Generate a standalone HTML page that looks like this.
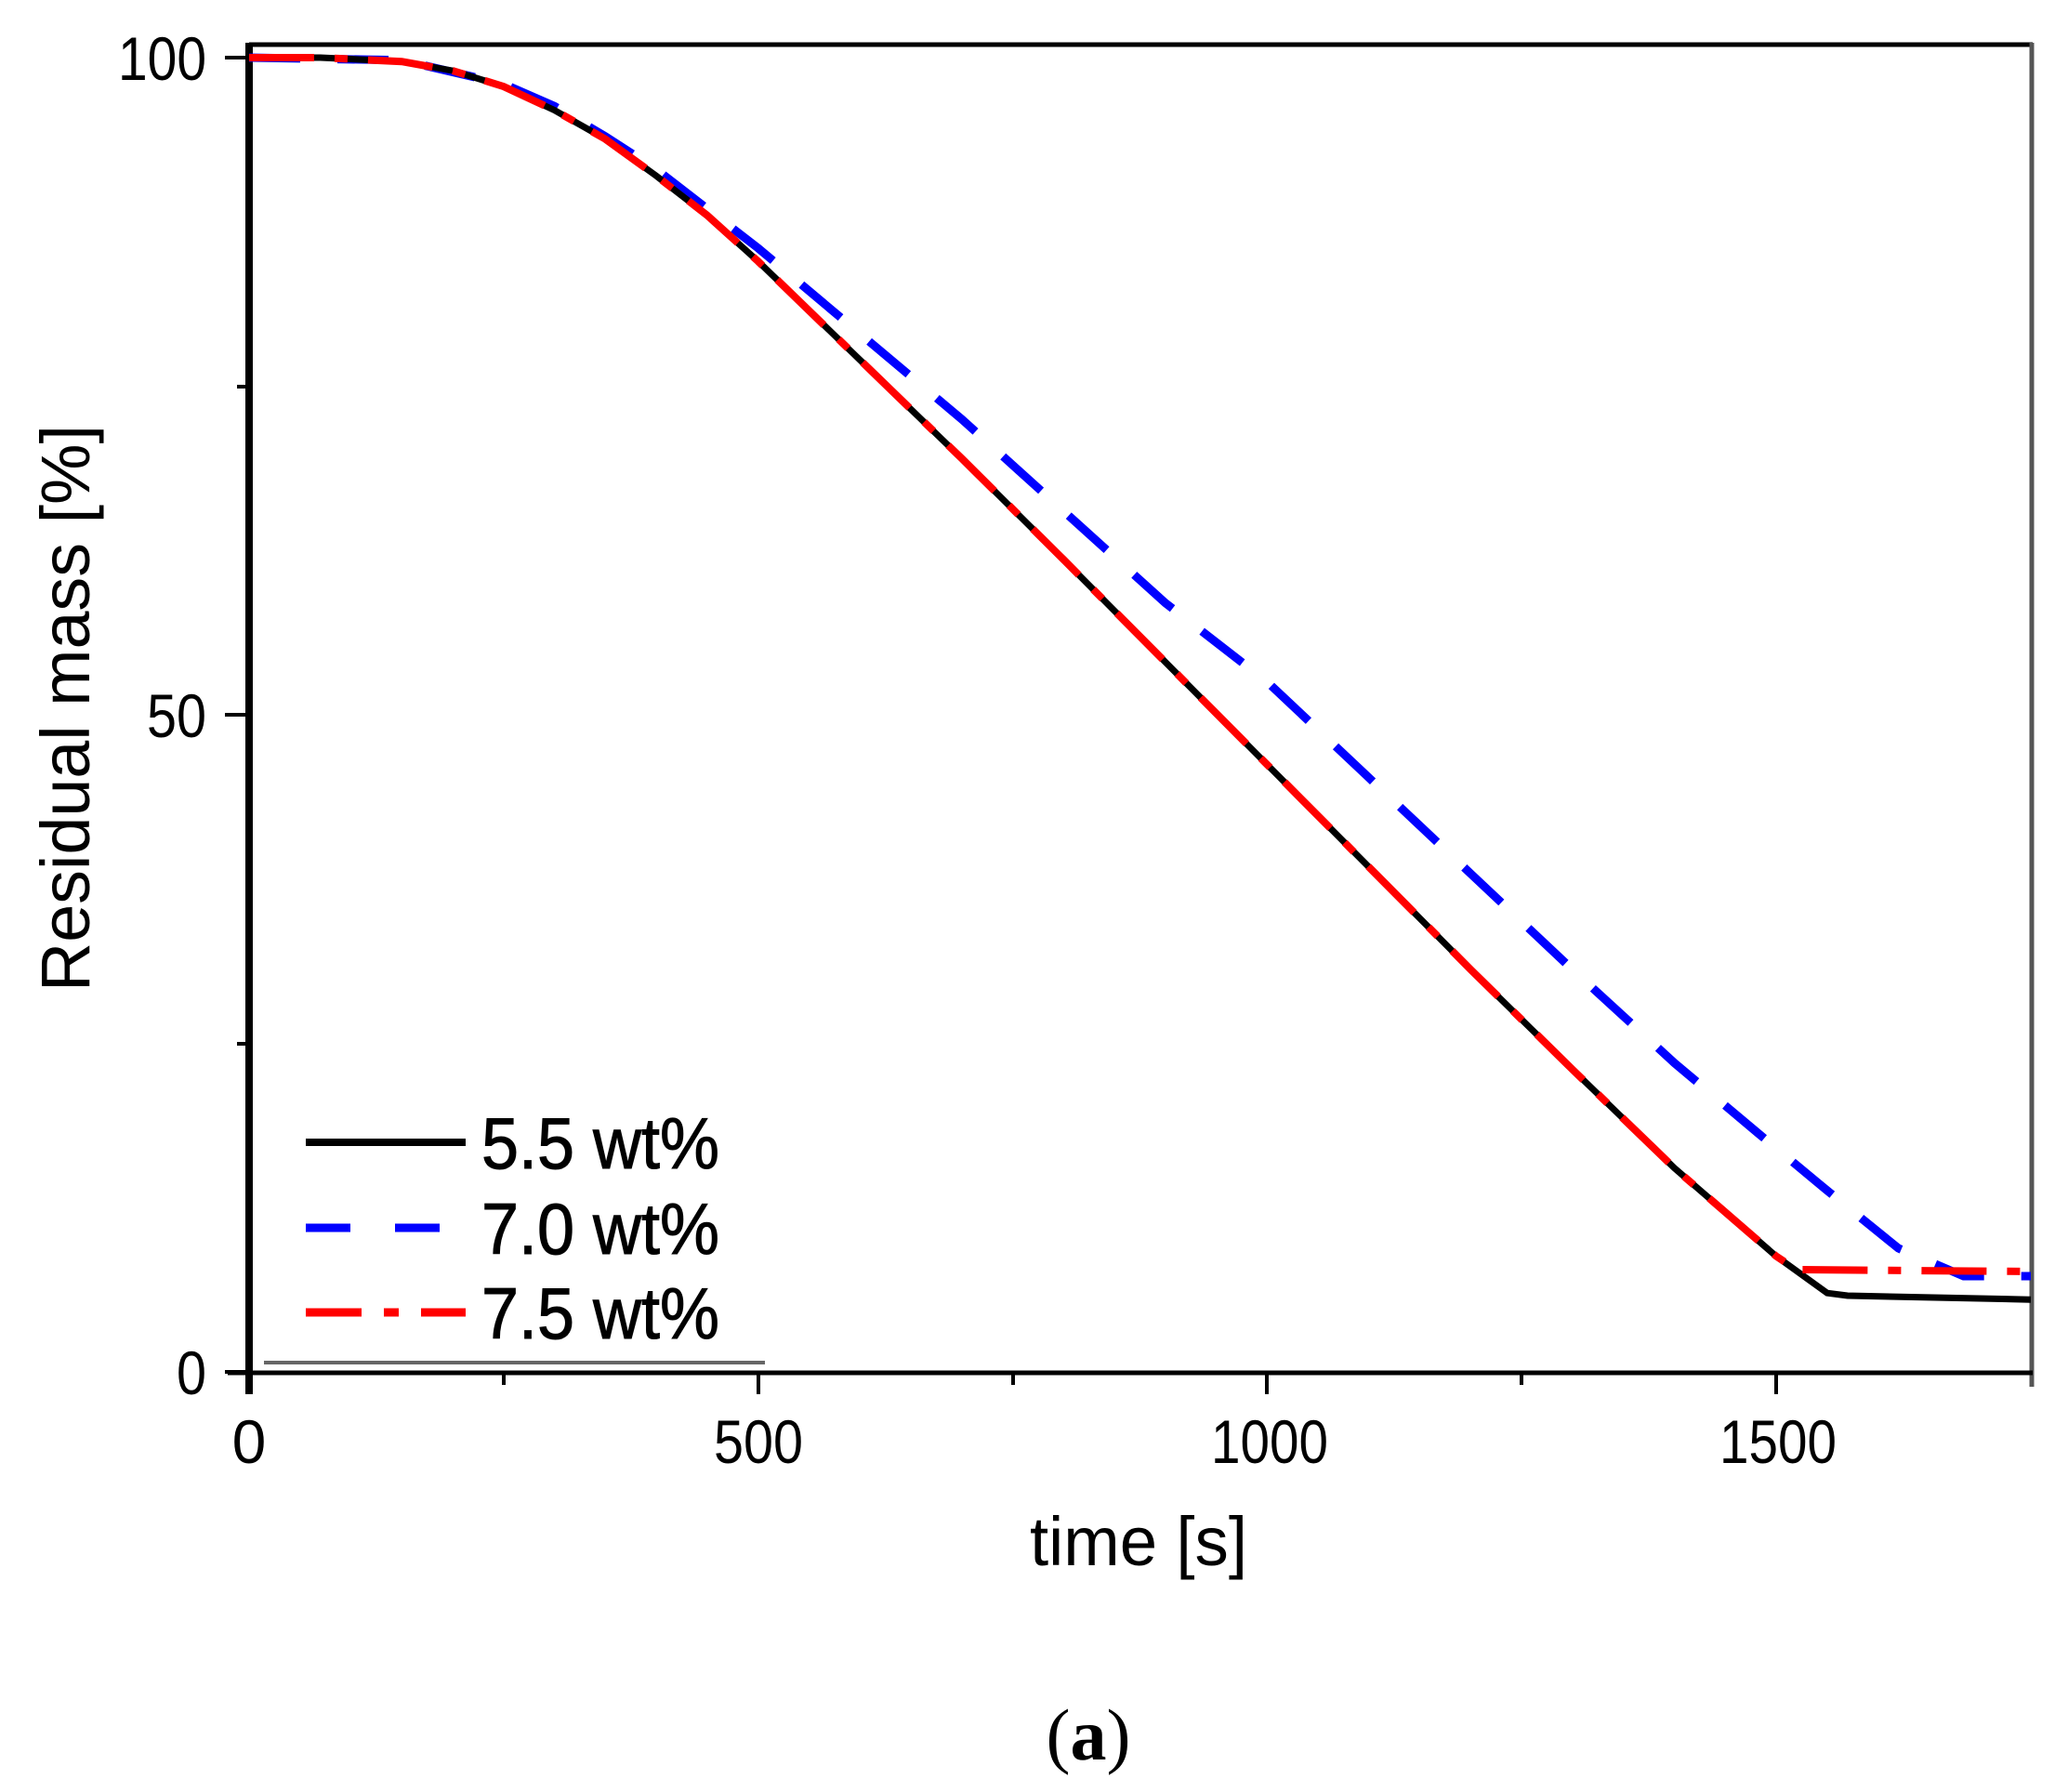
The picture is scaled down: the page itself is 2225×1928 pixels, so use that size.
<!DOCTYPE html>
<html><head><meta charset="utf-8"><style>
html,body{margin:0;padding:0;background:#fff;}
svg{display:block;}
text{font-family:"Liberation Sans",sans-serif;fill:#000;}
</style></head><body>
<svg width="2225" height="1928" viewBox="0 0 2225 1928" xmlns="http://www.w3.org/2000/svg">
<rect width="2225" height="1928" fill="#fff"/>
<!-- frame -->
<line x1="268" y1="48" x2="2187" y2="48" stroke="#000" stroke-width="5"/>
<line x1="2186" y1="46" x2="2186" y2="1492" stroke="#555" stroke-width="5"/>
<line x1="268" y1="46" x2="268" y2="1500" stroke="#000" stroke-width="8"/>
<line x1="245" y1="1477" x2="2187" y2="1477" stroke="#000" stroke-width="5"/>
<!-- y ticks -->
<g stroke="#000" stroke-width="4">
<line x1="242" y1="62" x2="268" y2="62"/>
<line x1="242" y1="769" x2="268" y2="769"/>
<line x1="242" y1="1476" x2="268" y2="1476"/>
<line x1="255" y1="416" x2="268" y2="416"/>
<line x1="255" y1="1123" x2="268" y2="1123"/>
<!-- x ticks -->
<line x1="816" y1="1477" x2="816" y2="1500"/>
<line x1="1363" y1="1477" x2="1363" y2="1500"/>
<line x1="1911" y1="1477" x2="1911" y2="1500"/>
<line x1="542" y1="1477" x2="542" y2="1490"/>
<line x1="1090" y1="1477" x2="1090" y2="1490"/>
<line x1="1637" y1="1477" x2="1637" y2="1490"/>
</g>
<!-- tick labels -->
<g font-size="66">
<text x="222" y="86" text-anchor="end" textLength="95" lengthAdjust="spacingAndGlyphs">100</text>
<text x="222" y="793" text-anchor="end" textLength="64" lengthAdjust="spacingAndGlyphs">50</text>
<text x="222" y="1500" text-anchor="end" textLength="32" lengthAdjust="spacingAndGlyphs">0</text>
<text x="268" y="1574" text-anchor="middle">0</text>
<text x="816" y="1574" text-anchor="middle" textLength="96" lengthAdjust="spacingAndGlyphs">500</text>
<text x="1366" y="1574" text-anchor="middle" textLength="126" lengthAdjust="spacingAndGlyphs">1000</text>
<text x="1913" y="1574" text-anchor="middle" textLength="126" lengthAdjust="spacingAndGlyphs">1500</text>
</g>
<text x="1225" y="1684" font-size="74" text-anchor="middle" textLength="234" lengthAdjust="spacingAndGlyphs">time [s]</text>
<text transform="translate(96,762) rotate(-90)" font-size="74" text-anchor="middle" textLength="610" lengthAdjust="spacingAndGlyphs">Residual mass [%]</text>
<text x="1171" y="1893" font-size="78" text-anchor="middle" style="font-family:'Liberation Serif',serif">(<tspan font-weight="bold">a</tspan>)</text>
<!-- legend -->
<line x1="284" y1="1466" x2="823" y2="1466" stroke="#666" stroke-width="4"/>
<line x1="329" y1="1229" x2="501" y2="1229" stroke="#000" stroke-width="8"/>
<line x1="329" y1="1321" x2="501" y2="1321" stroke="#00f" stroke-width="9" stroke-dasharray="48 48"/>
<line x1="329" y1="1412" x2="501" y2="1412" stroke="#f00" stroke-width="9" stroke-dasharray="60 24 16 24 60"/>
<g font-size="78" stroke="#000" stroke-width="1">
<text x="518" y="1257" textLength="256" lengthAdjust="spacingAndGlyphs">5.5 wt%</text>
<text x="518" y="1349" textLength="256" lengthAdjust="spacingAndGlyphs">7.0 wt%</text>
<text x="518" y="1440" textLength="256" lengthAdjust="spacingAndGlyphs">7.5 wt%</text>
</g>
<!-- series -->
<polyline fill="none" stroke="#00f" stroke-width="9" stroke-dasharray="55 40" points="268,62 432.3,64.8 541.9,90.3 596.6,114.3 651.4,146.8 706.2,182.2 760.9,224.6 815.7,267 925.2,359 1034.8,451 1144.3,549.8 1253.9,648.8 1363.4,733.6 1473,836.9 1582.5,940.1 1692,1043.3 1801.6,1143.7 1892.5,1220 1965.9,1280.9 2042.5,1343 2112.7,1373 2185,1373"/>
<polyline fill="none" stroke="#000" stroke-width="7" points="268,62 344.7,62 432.3,66.2 487.1,76.1 541.9,93.1 596.6,118.6 651.4,149.7 706.2,189.3 760.9,231.7 815.7,281.2 925.2,387.2 1034.8,493.3 1144.3,602 1253.9,712.4 1363.4,822.7 1473,933 1582.5,1043.3 1692,1150.8 1801.6,1256.8 1911.1,1351.6 1965.9,1391.2 1987.8,1394 2185,1398.2"/>
<polyline fill="none" stroke="#f00" stroke-width="8" stroke-dasharray="70 22 14 22" points="268,62 344.7,62 432.3,66.2 487.1,76.1 541.9,93.1 596.6,118.6 651.4,149.7 706.2,189.3 760.9,231.7 815.7,281.2 925.2,387.2 1034.8,493.3 1144.3,602 1253.9,712.4 1363.4,822.7 1473,933 1582.5,1043.3 1692,1150.8 1801.6,1256.8 1911.1,1351.6 1933,1366 2185,1368"/>
</svg>
</body></html>
